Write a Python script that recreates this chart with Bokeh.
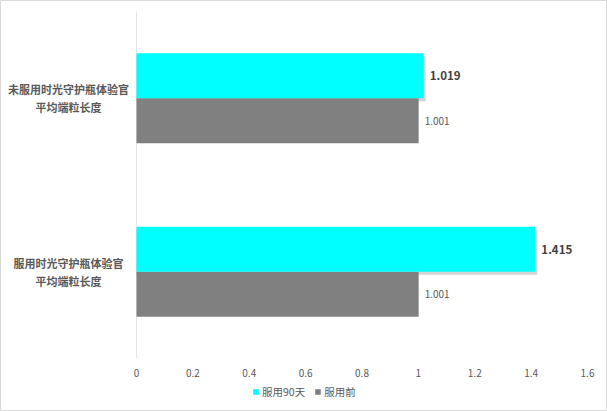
from bokeh.plotting import figure
from bokeh.models import ColumnDataSource, LabelSet, Legend, LegendItem, Range1d
from bokeh.core.properties import value
from bokeh.transform import dodge
from bokeh.embed import file_html
from bokeh.resources import INLINE

categories = ["未服用时光守护瓶体验官\n平均端粒长度", "服用时光守护瓶体验官\n平均端粒长度"]
series_names = ["服用90天", "服用前"]
after_90 = [1.019, 1.415]
before = [1.001, 1.001]
tick_values = [0, 0.2, 0.4, 0.6, 0.8, 1.0, 1.2, 1.4, 1.6]
tick_labels = ["0", "0.2", "0.4", "0.6", "0.8", "1", "1.2", "1.4", "1.6"]

FONT = "Noto Sans CJK SC"
CYAN = "#00FFFF"
GRAY = "#808080"
TXT = "#595959"

# ---- layout constants (pixels) ----
W, HGT = 607, 411
X0_PX, X1_PX = 136, 587          # value 0 and 1.6
XMAX = 1.6
PLOT_TOP, PLOT_BOTTOM = 11, 358   # extent of the category band area
TICK_LABEL_PX = 372               # vertical centre of the value-axis labels
n = len(categories)
cat_px = (PLOT_BOTTOM - PLOT_TOP) / n
top_center_px = PLOT_TOP + cat_px / 2
xscale = (X1_PX - X0_PX) / XMAX
x_start = -X0_PX / xscale
x_end = XMAX + (W - X1_PX) / xscale
y_top = (n - 1) + top_center_px / cat_px
y_bottom = (n - 1) - (HGT - top_center_px) / cat_px
tick_label_y = (n - 1) - (TICK_LABEL_PX - top_center_px) / cat_px

# category index positions (top category highest)
ypos = [n - 1 - i for i in range(n)]

src = ColumnDataSource(dict(
    cat=categories,
    ypos=ypos,
    after=after_90,
    before=before,
    after_lbl=[f"{v:.3f}" for v in after_90],
    before_lbl=[f"{v:.3f}" for v in before],
    zero=[0] * n,
))
tick_src = ColumnDataSource(dict(x=tick_values, lbl=tick_labels,
                                 y=[tick_label_y] * len(tick_values)))

p = figure(width=W, height=HGT, x_range=Range1d(x_start, x_end),
           y_range=Range1d(y_bottom, y_top),
           x_axis_location=None, y_axis_location=None,
           min_border=0, min_border_left=0, min_border_right=0,
           min_border_top=0, min_border_bottom=0,
           output_backend="svg", toolbar_location=None)
p.outline_line_color = "#d9d9d9"
p.background_fill_color = "white"
p.border_fill_color = "white"
p.grid.grid_line_color = None

# category axis line
p.segment(x0=0, y0=-0.5, x1=0, y1=n - 0.5, line_color="#e6e6e6", line_width=1)

H = 0.26
OFF = 0.13
# soft shadow for the cyan bars
p.hbar(y=dodge("ypos", OFF - 0.018), right=dodge("after", 0.007), left=0.0,
       height=H, source=src, fill_color="#b0b0b0", fill_alpha=0.55, line_color=None)
r_before = p.hbar(y=dodge("ypos", -OFF), right="before", left=0.0,
                  height=H, source=src, fill_color=GRAY, line_color=None)
r_after = p.hbar(y=dodge("ypos", OFF), right="after", left=0.0,
                 height=H, source=src, fill_color=CYAN, line_color=None)

# value labels
p.add_layout(LabelSet(x="after", y=dodge("ypos", OFF), text="after_lbl",
                      source=src, x_offset=6, text_baseline="middle",
                      text_font=value(FONT), text_font_size=value("11.5px"),
                      text_font_style=value("bold"), text_color=value("#404040")))
p.add_layout(LabelSet(x="before", y=dodge("ypos", -OFF), text="before_lbl",
                      source=src, x_offset=6, text_baseline="middle",
                      text_font=value(FONT), text_font_size=value("10px"),
                      text_color=value(TXT)))
# category labels (two lines, centred)
p.text(x="zero", y="ypos", text="cat", source=src, x_offset=-68,
       text_align="center", text_baseline="middle", text_line_height=1.1,
       text_font=value(FONT), text_font_size=value("11px"),
       text_font_style=value("bold"), text_color=value(TXT))
# value-axis tick labels
p.text(x="x", y="y", text="lbl", source=tick_src,
       text_align="center", text_baseline="middle",
       text_font=value(FONT), text_font_size=value("10px"), text_color=value(TXT))

legend = Legend(items=[LegendItem(label=series_names[0], renderers=[r_after]),
                       LegendItem(label=series_names[1], renderers=[r_before])],
                orientation="horizontal", location=(252, 12),
                glyph_width=7, glyph_height=7, label_height=12, label_standoff=3,
                spacing=9, padding=0, margin=0,
                label_text_font=FONT, label_text_font_size="10.5px", label_text_color=TXT,
                border_line_color=None, background_fill_alpha=0)
p.add_layout(legend)

open("out.html", "w").write(file_html(p, INLINE))
